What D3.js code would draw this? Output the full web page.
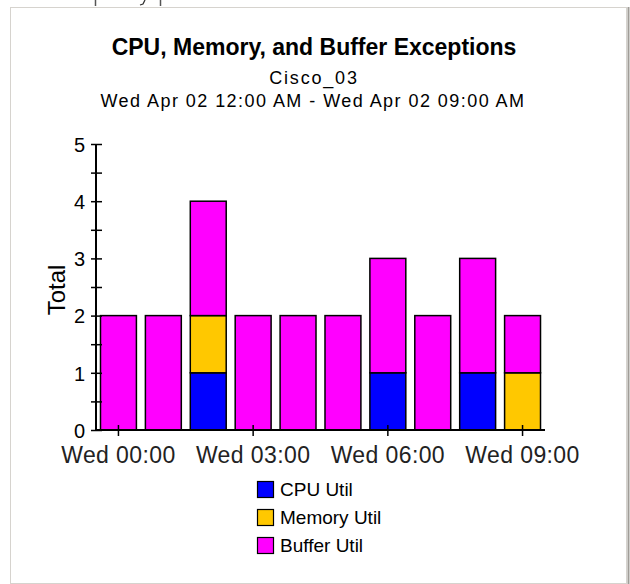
<!DOCTYPE html>
<html>
<head>
<meta charset="utf-8">
<script src="https://cdn.jsdelivr.net/npm/d3@7"></script>
<style>
    body { margin: 0; background: #fff; }
    svg { display: block; font-family: "Liberation Sans", Arial, sans-serif; }
</style>
</head>
<body>
<svg id="chart" width="630" height="584"></svg>
<script>
// data
const hours = ["00:00", "01:00", "02:00", "03:00", "04:00", "05:00", "06:00", "07:00", "08:00", "09:00"];
const cpu_util = [0, 0, 1, 0, 0, 0, 1, 0, 1, 0];
const memory_util = [0, 0, 1, 0, 0, 0, 0, 0, 0, 1];
const buffer_util = [2, 2, 2, 2, 2, 2, 2, 2, 2, 1];
const series_names = ["CPU Util", "Memory Util", "Buffer Util"];
const series_colors = ["#0000ff", "#ffc800", "#ff00ff"];
const x_tick_hours = ["00:00", "03:00", "06:00", "09:00"];
const y_ticks = [0, 0.5, 1, 1.5, 2, 2.5, 3, 3.5, 4, 4.5, 5];

const svg = d3.select("#chart");

// panel frame + bottom edge of the tab above it
svg.append("rect")
    .attr("x", 10.5).attr("y", 7.5)
    .attr("width", 616).attr("height", 576)
    .attr("fill", "#fff")
    .attr("stroke", "#d6d3ce");
svg.append("line")
    .attr("x1", 628.5).attr("x2", 628.5).attr("y1", 7).attr("y2", 584)
    .attr("stroke", "#a09d98").attr("stroke-width", 2);
svg.selectAll(".tab_edge")
    .data([95.5, 160.5])
    .enter().append("line")
    .attr("x1", d => d).attr("x2", d => d)
    .attr("y1", 0).attr("y2", 6)
    .attr("stroke", "#555").attr("stroke-width", 1.5);
svg.append("path")
    .attr("d", "M145,0L143,4L140,5")
    .attr("fill", "none")
    .attr("stroke", "#333").attr("stroke-width", 1.3);

// titles
svg.append("text")
    .attr("x", 314).attr("y", 55)
    .attr("text-anchor", "middle")
    .attr("font-size", 23).attr("font-weight", "bold")
    .text("CPU, Memory, and Buffer Exceptions");
svg.append("text")
    .attr("x", 314).attr("y", 84)
    .attr("text-anchor", "middle")
    .attr("font-size", 18).attr("letter-spacing", 1.8)
    .text("Cisco_03");
svg.append("text")
    .attr("x", 313).attr("y", 107)
    .attr("text-anchor", "middle")
    .attr("font-size", 18).attr("letter-spacing", 1.45)
    .text("Wed Apr 02 12:00 AM - Wed Apr 02 09:00 AM");

// scales
const xLeft = 96, xRight = 545, yTop = 144, yBottom = 430;

let xScale = d3.scaleBand()
    .domain(hours)
    .range([xLeft, xRight])
    .paddingInner(.2)
    .paddingOuter(.1);

let yScale = d3.scaleLinear()
    .domain([0, 5])
    .range([yBottom, yTop]);

// stacked bars
const table = hours.map((h, i) => ({
    hour: h,
    "CPU Util": cpu_util[i],
    "Memory Util": memory_util[i],
    "Buffer Util": buffer_util[i]
}));
const stacked = d3.stack().keys(series_names)(table);

let gBars = svg.append("g").classed("g_bars", true);
gBars.selectAll("g")
    .data(stacked)
    .enter().append("g")
    .attr("fill", (d, i) => series_colors[i])
    .selectAll("rect")
    .data(d => d.filter(p => p[1] > p[0]))
    .enter().append("rect")
    .attr("x", d => xScale(d.data.hour))
    .attr("y", d => yScale(d[1]))
    .attr("width", xScale.bandwidth())
    .attr("height", d => yScale(d[0]) - yScale(d[1]))
    .attr("stroke", "#000")
    .attr("stroke-width", 1.5);

// y axis
let yAxis = d3.axisLeft(yScale).tickValues(y_ticks).tickSize(0).tickFormat(d => Number.isInteger(d) ? d : "");
let gy = svg.append("g")
    .attr("transform", `translate(${xLeft}, 0)`)
    .call(yAxis);
gy.select(".domain").attr("stroke", "#000").attr("stroke-width", 2)
    .attr("d", `M0,${yBottom}V${yTop}`);
gy.selectAll(".tick line").attr("x1", -5).attr("x2", 6).attr("stroke", "#000").attr("stroke-width", 1.5);
gy.selectAll(".tick text")
    .attr("x", -11).attr("dy", "0.36em")
    .attr("font-size", 20).attr("font-family", null).attr("fill", "#000");

// x axis
let xAxis = d3.axisBottom(xScale).tickValues(x_tick_hours).tickSize(0).tickFormat(d => "Wed " + d);
let gx = svg.append("g")
    .attr("transform", `translate(0, ${yBottom})`)
    .call(xAxis);
gx.select(".domain").attr("stroke", "#000").attr("stroke-width", 2)
    .attr("d", `M${xLeft},0H${xRight}`);
gx.selectAll(".tick line").attr("y1", -5).attr("y2", 6).attr("stroke", "#000").attr("stroke-width", 1.5);
gx.selectAll(".tick text")
    .attr("y", 33).attr("dy", null)
    .attr("font-size", 23).attr("letter-spacing", 0.4)
    .attr("font-family", null).attr("fill", "#222");

// y axis title
svg.append("text")
    .attr("transform", `translate(65, 290)rotate(-90)`)
    .attr("text-anchor", "middle")
    .attr("font-size", 24)
    .text("Total");

// legend
let legend = svg.append("g").attr("transform", "translate(257, 481)");
let items = legend.selectAll("g")
    .data(series_names)
    .enter().append("g")
    .attr("transform", (d, i) => `translate(0, ${i * 28})`);
items.append("rect")
    .attr("x", 0.5).attr("y", 0.5)
    .attr("width", 16).attr("height", 16)
    .attr("fill", (d, i) => series_colors[i])
    .attr("stroke", "#000").attr("stroke-width", 1.2);
items.append("text")
    .attr("x", 23).attr("y", 15)
    .attr("font-size", 19)
    .text(d => d);
</script>
</body>
</html>
